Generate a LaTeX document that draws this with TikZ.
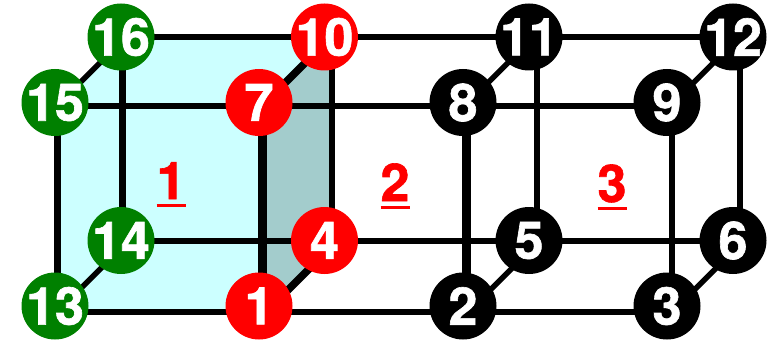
\documentclass[tikz,border=0pt]{standalone}
\usepackage{fontspec}
\setmainfont{TeX Gyre Heros}[BoldFeatures={FakeBold=1.2}]
\usetikzlibrary{calc}
\pgfdeclarelayer{bg}
\pgfsetlayers{bg,main}
\definecolor{facecyan}{HTML}{CCFFFF}
\definecolor{faceteal}{HTML}{A3CCCC}
\definecolor{nodegreen}{HTML}{008000}
\newcommand{\ulnum}[1]{\vtop{\hbox to 29pt{\hss#1\hss}\kern5pt\hrule height 3pt}}
\newcommand{\vnum}[1]{\makebox[0pt][c]{#1}}
\tikzset{
  vertex/.style={circle,minimum size=67pt,inner sep=0pt,text=white,font=\fontsize{52}{52}\selectfont\bfseries},
  gv/.style={vertex,fill=nodegreen},
  rv/.style={vertex,fill=red},
  kv/.style={vertex,fill=black},
  elem/.style={inner sep=0pt,anchor=base,text=red,font=\fontsize{52}{52}\selectfont\bfseries},
  edge/.style={draw=black,line width=6.5pt},
  diagedge/.style={draw=black,line width=5.5pt},
  heavy/.style={draw=black,line width=9pt},
  diagheavy/.style={draw=black,line width=7.5pt}
}
\begin{document}
\begin{tikzpicture}[x=1pt,y=-1pt]
\useasboundingbox (0,0) rectangle (771,342);
% vertices
\node[gv] (n13) at (55,306) {\vnum{13}};
\node[gv] (n15) at (55,102.5) {\vnum{15}};
\node[gv] (n16) at (121,37) {\vnum{16}};
\node[gv] (n14) at (121,240.5) {\vnum{14}};
\node[rv] (n1) at (259,306) {\vnum{1}};
\node[rv] (n7) at (259,102.5) {\vnum{7}};
\node[rv] (n10) at (324.5,37) {\vnum{10}};
\node[rv] (n4) at (324.5,240.5) {\vnum{4}};
\node[kv] (n2) at (463,306) {\vnum{2}};
\node[kv] (n8) at (463,102.5) {\vnum{8}};
\node[kv] (n11) at (529,37) {\vnum{11}};
\node[kv] (n5) at (529,240.5) {\vnum{5}};
\node[kv] (n3) at (667,306) {\vnum{3}};
\node[kv] (n9) at (667,102.5) {\vnum{9}};
\node[kv] (n12) at (733,37) {\vnum{12}};
\node[kv] (n6) at (733,240.5) {\vnum{6}};
% element labels
\node[elem] (e1) at (171,199) {\ulnum{1}};
\node[elem] (e2) at (395,201) {\ulnum{2}};
\node[elem] (e3) at (612,202) {\ulnum{3}};
\begin{pgfonlayer}{bg}
% faces
\fill[facecyan] ([shift={(2.3,6)}]n13.center) -- ([shift={(2.3,3.5)}]n15.center) -- ([shift={(1.5,0)}]n16.center) -- ([shift={(7.5,0)}]n10.center) -- ([shift={(3.5,3.5)}]n7.center) -- ([shift={(3.5,6)}]n1.center) -- cycle;
\fill[faceteal] ([shift={(3.5,3.5)}]n7.center) -- ([shift={(7.5,0)}]n10.center) -- ([shift={(7.5,0.5)}]n4.center) -- ([shift={(3.5,6)}]n1.center) -- cycle;
% horizontals
\foreach \a/\b in {n16/n10,n10/n11,n11/n12}
  \path[edge] (\a.center) -- (\b.center);
\foreach \a/\b in {n15/n7,n7/n8,n8/n9}
  \path[edge] ([yshift=-3.5pt]\a.center) -- ([yshift=-3.5pt]\b.center);
\foreach \a/\b in {n14/n4,n4/n5,n5/n6}
  \path[edge] ([yshift=-0.5pt]\a.center) -- ([yshift=-0.5pt]\b.center);
\foreach \a/\b in {n13/n1,n1/n2,n2/n3}
  \path[edge] ([yshift=-6pt]\a.center) -- ([yshift=-6pt]\b.center);
% verticals
\path[edge] ([xshift=2.3pt]n15.center) -- ([xshift=2.3pt]n13.center);
\path[edge] ([xshift=1.5pt]n16.center) -- ([xshift=1.5pt]n14.center);
\path[heavy] ([xshift=3.5pt]n7.center) -- ([xshift=3.5pt]n1.center);
\path[edge] ([xshift=7.5pt]n10.center) -- ([xshift=7.5pt]n4.center);
\path[heavy] ([xshift=3.7pt]n8.center) -- ([xshift=3.7pt]n2.center);
\path[edge] ([xshift=8pt]n11.center) -- ([xshift=8pt]n5.center);
\path[edge] ([xshift=5pt]n9.center) -- ([xshift=5pt]n3.center);
\path[edge] ([xshift=7pt]n12.center) -- ([xshift=7pt]n6.center);
% diagonals
\path[diagedge] ([xshift=5pt]n15.center) -- ([xshift=5pt]n16.center);
\path[diagedge] ([xshift=8pt]n13.center) -- ([xshift=8pt]n14.center);
\path[diagheavy] ([xshift=6.5pt]n7.center) -- ([xshift=6.5pt]n10.center);
\path[diagheavy] ([xshift=13pt]n1.center) -- ([xshift=13pt]n4.center);
\path[diagedge] ([xshift=5pt]n8.center) -- ([xshift=5pt]n11.center);
\path[diagedge] ([xshift=11pt]n2.center) -- ([xshift=11pt]n5.center);
\path[diagedge] ([xshift=6.5pt]n9.center) -- ([xshift=6.5pt]n12.center);
\path[diagedge] ([xshift=11pt]n3.center) -- ([xshift=11pt]n6.center);
\end{pgfonlayer}
\end{tikzpicture}
\end{document}
